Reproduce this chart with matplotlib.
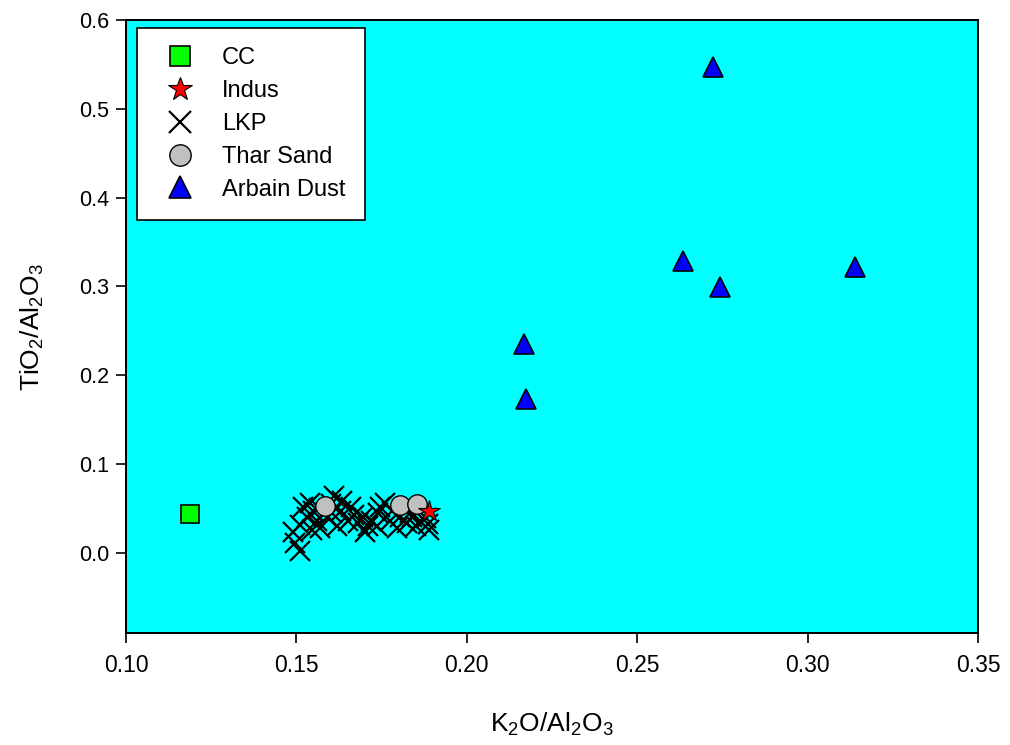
import matplotlib
matplotlib.use("Agg")
import matplotlib.pyplot as plt

plt.rcParams['font.family'] = ['Liberation Sans', 'DejaVu Sans']
plt.rcParams['mathtext.default'] = 'regular'

# CC
cc_x = [0.1188]
cc_y = [0.043]

# Indus
indus_x = [0.1889]
indus_y = [0.047]

# LKP
lkp_x = [0.1511, 0.1496, 0.149, 0.151, 0.153, 0.155, 0.152, 0.160, 0.161, 0.159,
         0.157, 0.163, 0.165, 0.166, 0.168, 0.170, 0.172, 0.174, 0.1745, 0.176,
         0.1775, 0.1795, 0.1825, 0.1833, 0.1863, 0.189, 0.188, 0.156, 0.158, 0.154,
         0.162, 0.167, 0.171, 0.178, 0.184, 0.1545, 0.1565, 0.1605, 0.1635, 0.1695,
         0.1735, 0.1805, 0.185, 0.1885]
lkp_y = [0.002, 0.011, 0.023, 0.031, 0.040, 0.047, 0.051, 0.055, 0.064, 0.040,
         0.028, 0.047, 0.036, 0.051, 0.033, 0.023, 0.036, 0.044, 0.051, 0.056,
         0.036, 0.028, 0.033, 0.044, 0.036, 0.025, 0.039, 0.035, 0.045, 0.056,
         0.030, 0.042, 0.030, 0.047, 0.040, 0.025, 0.050, 0.045, 0.058, 0.040,
         0.030, 0.040, 0.030, 0.032]

# Thar Sand
thar_x = [0.1584, 0.1805, 0.1854]
thar_y = [0.052, 0.053, 0.055]

# Arbain Dust
arbain_x = [0.2722, 0.2634, 0.2743, 0.3139, 0.2168, 0.2174]
arbain_y = [0.547, 0.328, 0.299, 0.322, 0.2345, 0.1725]

fig = plt.figure(figsize=(10.1, 7.45), dpi=100)
ax = fig.add_axes([0.1248, 0.150, 0.8435, 0.823])
ax.set_facecolor('#00FFFF')

ax.plot(cc_x, cc_y, linestyle='none', marker='s', ms=12.5, mfc='#00FF00',
        mec='black', mew=1.2, label='CC', zorder=3)
ax.plot(lkp_x, lkp_y, linestyle='none', marker='x', ms=15, color='black',
        mew=1.6, label='LKP', zorder=3)
ax.plot(thar_x, thar_y, linestyle='none', marker='o', ms=14, mfc='#C0C0C0',
        mec='black', mew=1.0, label='Thar Sand', zorder=4)
ax.plot(indus_x, indus_y, linestyle='none', marker='*', ms=16, mfc='red',
        mec='black', mew=0.8, label='Indus', zorder=5)
ax.plot(arbain_x, arbain_y, linestyle='none', marker='^', ms=14, mfc='#0000FF',
        mec='black', mew=1.2, label='Arbain Dust', zorder=3)

ax.set_xlim(0.10, 0.35)
ax.set_ylim(-0.091, 0.6)
ax.set_xticks([0.10, 0.15, 0.20, 0.25, 0.30, 0.35])
ax.set_xticklabels(['0.10', '0.15', '0.20', '0.25', '0.30', '0.35'])
ax.set_yticks([0.0, 0.1, 0.2, 0.3, 0.4, 0.5, 0.6])
ax.set_yticklabels(['0.0', '0.1', '0.2', '0.3', '0.4', '0.5', '0.6'])
ax.tick_params(direction='out', length=7, width=1.2, top=False, right=False)
ax.tick_params(axis='x', labelsize=16.5, pad=8)
ax.tick_params(axis='y', labelsize=15.5, pad=5)
for s in ax.spines.values():
    s.set_linewidth(1.4)

ax.set_xlabel('K$_2$O/Al$_2$O$_3$', fontsize=19, labelpad=24)
ax.set_ylabel('TiO$_2$/Al$_2$O$_3$', fontsize=19, labelpad=24)

h, l = ax.get_legend_handles_labels()
order = ['CC', 'Indus', 'LKP', 'Thar Sand', 'Arbain Dust']
hs = [h[l.index(k)] for k in order]
leg = ax.legend(hs, order, loc='upper left', bbox_to_anchor=(0.013, 0.987),
                borderaxespad=0, fontsize=17, frameon=True, fancybox=False,
                framealpha=1, edgecolor='black', borderpad=0.81,
                handlelength=2.03, handletextpad=0.76, labelspacing=0.46,
                markerscale=1.1)
leg.get_frame().set_linewidth(1.2)

fig.savefig('out.png', dpi=100)
